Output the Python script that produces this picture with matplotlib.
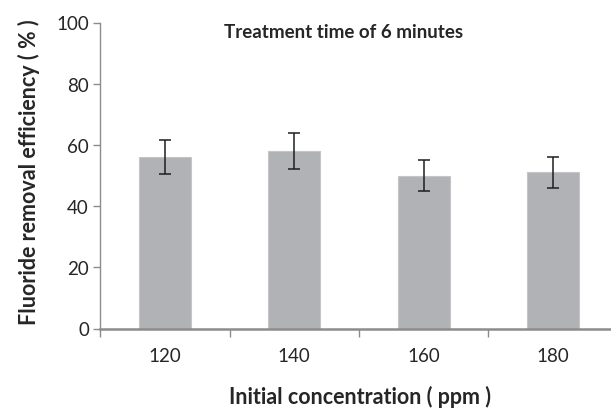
import matplotlib
matplotlib.use("Agg")
import matplotlib.pyplot as plt
import numpy as np

plt.rcParams['font.family'] = ['Lato', 'DejaVu Sans']

# Data
concentrations = ["120", "140", "160", "180"]
efficiency = [56.0, 58.0, 50.0, 51.0]
errors = [5.6, 5.8, 5.0, 5.1]
y_ticks = [0, 20, 40, 60, 80, 100]

bar_color = "#b1b2b5"
axis_color = "#8c8c8c"
text_color = "#262626"

fig = plt.figure(figsize=(6.11, 4.10), dpi=100)
ax = fig.add_axes([100 / 611, 1 - 329.5 / 410, 518 / 611, 306 / 410])

x = np.arange(len(concentrations))
ax.bar(x, efficiency, width=0.4, color=bar_color, edgecolor="#c4c5c7", linewidth=0.8, zorder=2)
ax.errorbar(x, efficiency, yerr=errors, fmt="none", ecolor="#1e1e1e",
            elinewidth=1.1, capsize=4, capthick=1.1, zorder=3)

ax.set_xlim(-0.5, len(concentrations) - 0.5)
ax.set_ylim(0, 100)
ax.set_yticks(y_ticks)
ax.set_xticks(x)
ax.set_xticklabels(concentrations)
ax.set_xticks(np.arange(-0.5, len(concentrations)), minor=True)

for side in ("top", "right"):
    ax.spines[side].set_visible(False)
ax.spines["left"].set_color(axis_color)
ax.spines["left"].set_linewidth(1.0)
ax.spines["bottom"].set_color(axis_color)
ax.spines["bottom"].set_linewidth(1.8)

ax.tick_params(axis="y", direction="out", length=5, width=1.0, color=axis_color,
               labelsize=13.5, labelcolor=text_color, pad=3)
ax.tick_params(axis="x", which="major", length=0, labelsize=13.5,
               labelcolor=text_color, pad=13)
ax.tick_params(axis="x", which="minor", direction="out", length=6, width=1.0,
               color=axis_color)

ax.set_ylabel("Fluoride removal efficiency ( % )", fontsize=15.5, fontweight="bold",
              color=text_color)
ax.yaxis.set_label_coords(-60 / 518, 0.5 + 4 / 306)
ax.set_xlabel("Initial concentration ( ppm )", fontsize=15.5, fontweight="bold",
              color=text_color)
ax.xaxis.set_label_coords(260 / 518, -56 / 306)

fig.text(344 / 611, 1 - 32 / 410, "Treatment time of 6 minutes", ha="center",
         va="center", fontsize=13.5, fontweight="bold", color=text_color)

fig.savefig("out.png", dpi=100)
